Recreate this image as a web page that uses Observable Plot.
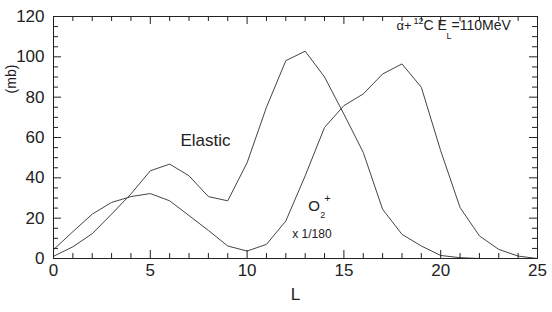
<!DOCTYPE html>
<html><head><meta charset="utf-8">
<script src="https://cdn.jsdelivr.net/npm/d3@7"></script>
<script src="https://cdn.jsdelivr.net/npm/@observablehq/plot@0.6"></script>
<style>
body{margin:0;background:#fff;}
#chart svg{display:block;}
g[aria-label="elastic-label"] text{letter-spacing:2.2px;}
g[aria-label="mev"] text{letter-spacing:1.1px;}
g[aria-label="scale-label"] text{letter-spacing:1px;}
g[aria-label="mb-label"] text{letter-spacing:1.5px;}
</style></head><body><div id="chart"></div>
<script>
const L = [0,1,2,3,4,5,6,7,8,9,10,11,12,13,14,15,16,17,18,19,20,21,22,23,24,25];
const elastic = [1.1,5.8,12.3,22,32,43.5,46.8,41,30.7,28.6,47.5,75,98.1,102.8,90,71.6,52.6,24.4,12,6.2,1.5,0.4,0,0,0,0];
const o2 = [4.4,13.3,22,27.8,30.7,32.2,28.6,21.3,13.9,6.2,3.7,7,18.6,41,65,75.8,81.6,91.5,96.5,84.9,53.4,25.3,11.2,4.5,1.2,0];
const xMajor = [0,5,10,15,20,25];
const xMinor = [1,2,3,4,6,7,8,9,11,12,13,14,16,17,18,19,21,22,23,24];
const yMajor = [0,20,40,60,80,100,120];
const yMinor = [5,10,15,25,30,35,45,50,55,65,70,75,85,90,95,105,110,115];
const xDomain = [0, 25];
const yDomain = [0, 120];

const rows = L.flatMap((l, i) => [
  {L: l, v: elastic[i], s: "Elastic"},
  {L: l, v: o2[i], s: "O2+"}
]);

const W = 552, H = 312, mL = 53, mR = 15, mT = 16, mB = 54;
const fw = W - mL - mR, fh = H - mT - mB;
const ink = "#222";
const sans = "'Liberation Sans', 'DejaVu Sans', sans-serif";

// inward ticks on all four sides (length n in pixels via frame insets)
const ticksX = (t, n) => [
  Plot.tickX(t, {x: v => v, insetTop: fh - n, stroke: ink}),
  Plot.tickX(t, {x: v => v, insetBottom: fh - n, stroke: ink})
];
const ticksY = (t, n) => [
  Plot.tickY(t, {y: v => v, insetRight: fw - n, stroke: ink}),
  Plot.tickY(t, {y: v => v, insetLeft: fw - n, stroke: ink})
];

const A = {x: [17.72], y: [113.2], textAnchor: "start", lineAnchor: "bottom", fill: "#222"};
const O = {x: [13.16], y: [23.6], textAnchor: "start", lineAnchor: "bottom", fill: "#222"};

const chart = Plot.plot({
  width: W,
  height: H,
  marginLeft: mL,
  marginRight: mR,
  marginTop: mT,
  marginBottom: mB,
  style: {fontFamily: sans, fontSize: "16px", color: "#222", background: "#fff"},
  x: {domain: xDomain, label: null},
  y: {domain: yDomain, label: null},
  marks: [
    Plot.line(rows, {x: "L", y: "v", z: "s", stroke: "#444", strokeWidth: 1}),
    ...ticksX(xMinor, 5),
    ...ticksX(xMajor, 8),
    ...ticksY(yMinor, 5),
    ...ticksY(yMajor, 8),
    Plot.frame({stroke: ink, strokeWidth: 1}),
    Plot.axisX(xMajor, {anchor: "bottom", tickSize: 0, tickPadding: 5, fontSize: 17, label: null, fill: "#222"}),
    Plot.axisY(yMajor, {anchor: "left", tickSize: 0, tickPadding: 9, fontSize: 17, label: null, fill: "#222"}),
    Plot.text(["L"], {frameAnchor: "bottom", x: [12.5], dy: 41, lineAnchor: "bottom", fontSize: 17, fill: "#222"}),
    Plot.text(["(mb)"], {x: [0], y: [89], dx: -42, rotate: -90, fontSize: 14, fill: "#222", ariaLabel: "mb-label"}),
    Plot.text(["Elastic"], {x: [6.56], y: [55.9], textAnchor: "start", lineAnchor: "bottom", fontSize: 17, fill: "#222", ariaLabel: "elastic-label"}),
    // alpha + 12C  E_L = 110 MeV
    Plot.text(["α+"], {...A, fontSize: 13}),
    Plot.text(["12"], {...A, dx: 17, dy: -6, fontSize: 9}),
    Plot.text(["C"], {...A, dx: 27, fontSize: 14}),
    Plot.text(["E"], {...A, dx: 41, fontSize: 14}),
    Plot.text(["L"], {...A, dx: 50, dy: 8.5, fontSize: 9}),
    Plot.text(["=110MeV"], {...A, dx: 55, fontSize: 14, ariaLabel: "mev"}),
    // O2+ x 1/180
    Plot.text(["O"], {...O, fontSize: 15}),
    Plot.text(["2"], {...O, dx: 12, dy: 7, fontSize: 9}),
    Plot.text(["+"], {...O, dx: 16, dy: -9, fontSize: 11}),
    Plot.text(["x 1/180"], {x: [12.33], y: [10.0], textAnchor: "start", lineAnchor: "bottom", fontSize: 12, fill: "#222", ariaLabel: "scale-label"})
  ]
});
document.getElementById("chart").appendChild(chart);
</script>
</body></html>
